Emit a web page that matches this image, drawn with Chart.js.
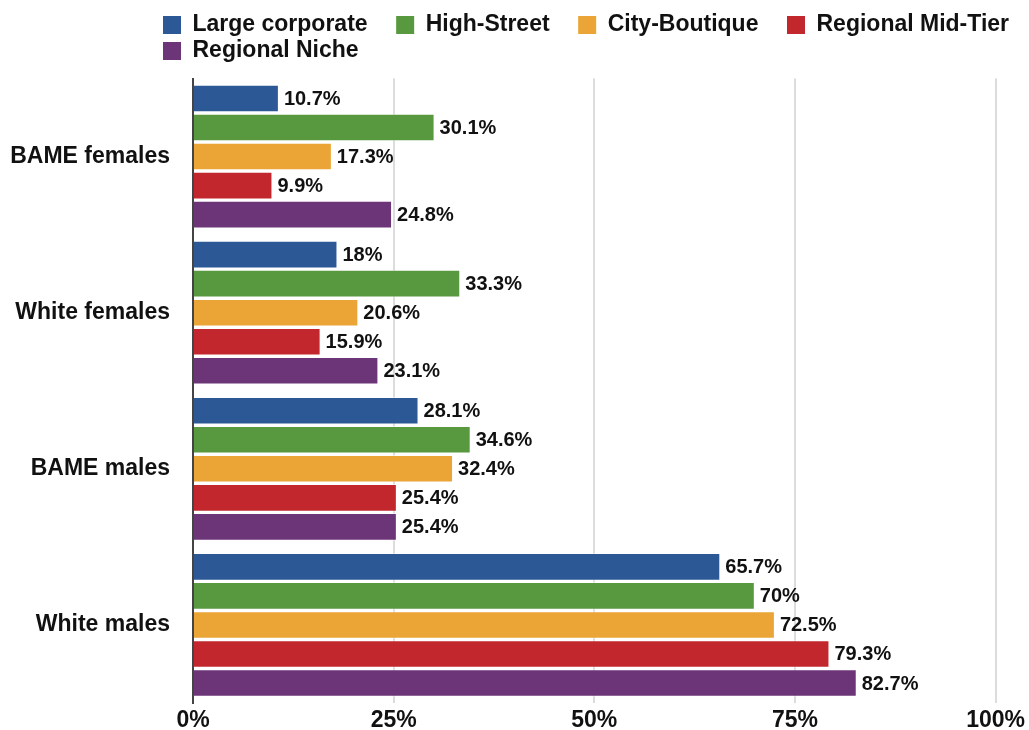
<!DOCTYPE html>
<html>
<head>
<meta charset="utf-8">
<script src="https://cdn.jsdelivr.net/npm/chart.js@4.4.0/dist/chart.umd.min.js"></script>
<style>
  html, body { margin: 0; padding: 0; background: #fff; }
  #wrap { width: 1029px; height: 730px; }
</style>
</head>
<body>
<div id="wrap"><canvas id="bar_chart"></canvas></div>
<script>
const groups = ["BAME females", "White females", "BAME males", "White males"];
const seriesNames = ["Large corporate", "High-Street", "City-Boutique", "Regional Mid-Tier", "Regional Niche"];
const largeCorporate = [10.7, 18, 28.1, 65.7];
const highStreet = [30.1, 33.3, 34.6, 70];
const cityBoutique = [17.3, 20.6, 32.4, 72.5];
const regionalMidTier = [9.9, 15.9, 25.4, 79.3];
const regionalNiche = [24.8, 23.1, 25.4, 82.7];
const xTicks = [0, 25, 50, 75, 100];

const colors = ["#2c5896", "#58983f", "#eba436", "#c1272d", "#6c3577"];
const values = [largeCorporate, highStreet, cityBoutique, regionalMidTier, regionalNiche];

const FONT = "'Liberation Sans', Arial, Helvetica, sans-serif";

// value labels at the end of every bar
const barLabels = {
  id: "barLabels",
  afterDatasetsDraw(chart) {
    const ctx = chart.ctx;
    ctx.save();
    ctx.font = "bold 20px " + FONT;
    ctx.fillStyle = "#111";
    ctx.textAlign = "left";
    ctx.textBaseline = "middle";
    chart.data.datasets.forEach((ds, i) => {
      chart.getDatasetMeta(i).data.forEach((bar, j) => {
        ctx.fillText(ds.data[j] + "%", bar.x + 5, bar.y + 1);
      });
    });
    ctx.restore();
  }
};

// legend sits left-aligned from x=163 and leaves a gap above the plot
const legendTweak = {
  id: "legendTweak",
  beforeInit(chart) {
    const fit = chart.legend.fit;
    chart.legend.fit = function () {
      fit.bind(this)();
      this.height += 6;
    };
  },
  afterLayout(chart) {
    chart.legend.left = 160;
  }
};

const ctx = document.getElementById("bar_chart");

const chart = new Chart(ctx, {
  type: "bar",
  data: {
    labels: groups,
    datasets: seriesNames.map((name, i) => ({
      label: name,
      data: values[i],
      backgroundColor: colors[i],
      borderColor: "rgba(255,255,255,0.55)",
      borderWidth: 1,
      categoryPercentage: 0.93,
      barPercentage: 0.95,
    })),
  },
  options: {
    indexAxis: "y",
    responsive: true,
    maintainAspectRatio: false,
    animation: false,
    layout: { padding: { top: 10.5, left: 0, right: 0, bottom: 0 } },
    plugins: {
      tooltip: { enabled: false },
      legend: {
        position: "top",
        align: "start",
        labels: {
          boxWidth: 18,
          boxHeight: 18,
          padding: 3,
          color: "#111",
          font: { family: FONT, size: 23, weight: "bold" },
          generateLabels(chart) {
            const items = Chart.defaults.plugins.legend.labels.generateLabels(chart);
            items.forEach((item, i) => {
              item.lineWidth = 0;
              if (i < 3) item.text = item.text + "    ";
            });
            return items;
          },
        },
      },
    },
    scales: {
      x: {
        min: 0,
        max: 100,
        afterBuildTicks(axis) {
          axis.ticks = xTicks.map((v) => ({ value: v }));
        },
        afterFit(axis) {
          axis.height = 27;
        },
        ticks: {
          padding: 4,
          color: "#111",
          font: { family: FONT, size: 23, weight: "bold" },
          callback: (v) => v + "%",
        },
        grid: { color: "#dcdcdc", lineWidth: 2, drawTicks: false },
        border: { display: false },
      },
      y: {
        afterFit(axis) {
          axis.width = 193;
          axis.paddingTop = 0;
          axis.paddingBottom = 0;
        },
        ticks: {
          padding: 23,
          color: "#111",
          font: { family: FONT, size: 23, weight: "bold" },
        },
        grid: { display: false, drawTicks: false },
        border: { display: true, color: "#444", width: 2 },
      },
    },
  },
  plugins: [barLabels, legendTweak],
});
</script>
</body>
</html>
